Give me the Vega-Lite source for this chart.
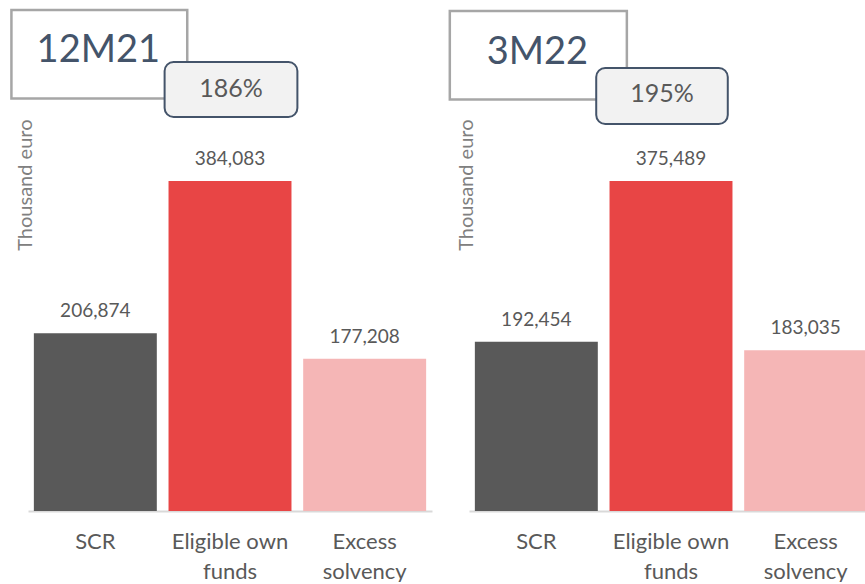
{
  "$schema": "https://vega.github.io/schema/vega-lite/v6.json",
  "bounds": "flush",
  "spacing": 37,
  "padding": {"left": 10, "top": 8, "right": 0, "bottom": 0},
  "background": "white",
  "config": {
    "font": "Lato",
    "view": {"stroke": null},
    "axisX": {
      "labelFontSize": 22, "labelColor": "#595959", "labelPadding": 20, "labelLineHeight": 30,
      "labelAngle": 0, "ticks": false, "domainColor": "#d9d9d9", "domainWidth": 2, "grid": false,
      "labelExpr": "datum.value == 'Eligible own funds' ? ['Eligible own', 'funds'] : datum.value == 'Excess solvency' ? ['Excess', 'solvency'] : datum.value"
    },
    "axisY": {
      "labels": false, "ticks": false, "domain": false, "grid": false,
      "titleFontSize": 20, "titleFontWeight": "normal", "titleColor": "#808080",
      "titleAlign": "right", "titleBaseline": "alphabetic", "titleX": 3, "titleY": 108, "titleAngle": -90
    }
  },
  "datasets": {
    "bars": [
      {"period": "12M21", "category": "SCR", "value": 206874},
      {"period": "12M21", "category": "Eligible own funds", "value": 384083},
      {"period": "12M21", "category": "Excess solvency", "value": 177208},
      {"period": "3M22", "category": "SCR", "value": 192454},
      {"period": "3M22", "category": "Eligible own funds", "value": 375489},
      {"period": "3M22", "category": "Excess solvency", "value": 183035}
    ],
    "headers": [
      {"period": "12M21", "ratio": "186%"},
      {"period": "3M22", "ratio": "195%"}
    ]
  },
  "resolve": {"scale": {"x": "independent", "y": "independent"}},
  "hconcat": [
    {
      "width": 404, "height": 500,
      "layer": [
        {
          "data": {"name": "bars"},
          "transform": [{"filter": "datum.period == '12M21'"}],
          "mark": {"type": "bar"},
          "encoding": {
            "x": {"field": "category", "type": "nominal", "title": null,
                  "scale": {"domain": ["SCR", "Eligible own funds", "Excess solvency"], "paddingInner": 0.087, "paddingOuter": 0.0435}},
            "y": {"field": "value", "type": "quantitative", "title": "Thousand euro", "scale": {"domain": [0, 581944], "nice": false}},
            "color": {"field": "category", "type": "nominal", "legend": null,
                      "scale": {"domain": ["SCR", "Eligible own funds", "Excess solvency"], "range": ["#595959", "#E84545", "#F5B6B6"]}}
          }
        },
        {
          "data": {"name": "bars"},
          "transform": [{"filter": "datum.period == '12M21'"}],
          "mark": {"type": "text", "fontSize": 19, "color": "#595959", "baseline": "alphabetic", "dy": -16},
          "encoding": {
            "x": {"field": "category", "type": "nominal", "title": null},
            "y": {"field": "value", "type": "quantitative", "title": "Thousand euro"},
            "text": {"field": "value", "type": "quantitative", "format": ",d"}
          }
        },
        {
          "data": {"name": "headers"},
          "transform": [{"filter": "datum.period == '12M21'"}],
          "mark": {"type": "rect", "fill": "white", "stroke": "#a6a6a6", "strokeWidth": 2.5, "width": {"band": 1.43}, "xOffset": 4, "clip": false},
          "encoding": {
            "x": {"datum": "SCR", "type": "nominal", "title": null},
            "y": {"datum": 583108, "type": "quantitative", "title": "Thousand euro"},
            "y2": {"datum": 480104}
          }
        },
        {
          "data": {"name": "headers"},
          "transform": [{"filter": "datum.period == '12M21'"}],
          "mark": {"type": "text", "fontSize": 38, "color": "#44546A", "baseline": "middle", "xOffset": 3},
          "encoding": {
            "x": {"datum": "SCR", "type": "nominal", "title": null},
            "y": {"datum": 535388, "type": "quantitative", "title": "Thousand euro"},
            "text": {"field": "period"}
          }
        },
        {
          "data": {"name": "headers"},
          "transform": [{"filter": "datum.period == '12M21'"}],
          "mark": {"type": "rect", "fill": "#F2F2F2", "stroke": "#44546A", "strokeWidth": 2, "cornerRadius": 9, "width": {"band": 1.08}, "xOffset": 1},
          "encoding": {
            "x": {"datum": "Eligible own funds", "type": "nominal", "title": null},
            "y": {"datum": 522586, "type": "quantitative", "title": "Thousand euro"},
            "y2": {"datum": 458572}
          }
        },
        {
          "data": {"name": "headers"},
          "transform": [{"filter": "datum.period == '12M21'"}],
          "mark": {"type": "text", "fontSize": 25, "color": "#595959", "baseline": "middle", "xOffset": 1},
          "encoding": {
            "x": {"datum": "Eligible own funds", "type": "nominal", "title": null},
            "y": {"datum": 491161, "type": "quantitative", "title": "Thousand euro"},
            "text": {"field": "ratio"}
          }
        }
      ]
    },
    {
      "width": 404, "height": 500,
      "layer": [
        {
          "data": {"name": "bars"},
          "transform": [{"filter": "datum.period == '3M22'"}],
          "mark": {"type": "bar"},
          "encoding": {
            "x": {"field": "category", "type": "nominal", "title": null,
                  "scale": {"domain": ["SCR", "Eligible own funds", "Excess solvency"], "paddingInner": 0.087, "paddingOuter": 0.0435}},
            "y": {"field": "value", "type": "quantitative", "title": "Thousand euro", "scale": {"domain": [0, 568923], "nice": false}},
            "color": {"field": "category", "type": "nominal", "legend": null,
                      "scale": {"domain": ["SCR", "Eligible own funds", "Excess solvency"], "range": ["#595959", "#E84545", "#F5B6B6"]}}
          }
        },
        {
          "data": {"name": "bars"},
          "transform": [{"filter": "datum.period == '3M22'"}],
          "mark": {"type": "text", "fontSize": 19, "color": "#595959", "baseline": "alphabetic", "dy": -16},
          "encoding": {
            "x": {"field": "category", "type": "nominal", "title": null},
            "y": {"field": "value", "type": "quantitative", "title": "Thousand euro"},
            "text": {"field": "value", "type": "quantitative", "format": ",d"}
          }
        },
        {
          "data": {"name": "headers"},
          "transform": [{"filter": "datum.period == '3M22'"}],
          "mark": {"type": "rect", "fill": "white", "stroke": "#a6a6a6", "strokeWidth": 2.5, "width": {"band": 1.44}, "xOffset": 2, "clip": false},
          "encoding": {
            "x": {"datum": "SCR", "type": "nominal", "title": null},
            "y": {"datum": 568923, "type": "quantitative", "title": "Thousand euro"},
            "y2": {"datum": 468224}
          }
        },
        {
          "data": {"name": "headers"},
          "transform": [{"filter": "datum.period == '3M22'"}],
          "mark": {"type": "text", "fontSize": 38, "color": "#44546A", "baseline": "middle", "xOffset": 1},
          "encoding": {
            "x": {"datum": "SCR", "type": "nominal", "title": null},
            "y": {"datum": 521133, "type": "quantitative", "title": "Thousand euro"},
            "text": {"field": "period"}
          }
        },
        {
          "data": {"name": "headers"},
          "transform": [{"filter": "datum.period == '3M22'"}],
          "mark": {"type": "rect", "fill": "#F2F2F2", "stroke": "#44546A", "strokeWidth": 2, "cornerRadius": 9, "width": {"band": 1.07}, "xOffset": -9},
          "encoding": {
            "x": {"datum": "Eligible own funds", "type": "nominal", "title": null},
            "y": {"datum": 504066, "type": "quantitative", "title": "Thousand euro"},
            "y2": {"datum": 440346}
          }
        },
        {
          "data": {"name": "headers"},
          "transform": [{"filter": "datum.period == '3M22'"}],
          "mark": {"type": "text", "fontSize": 25, "color": "#595959", "baseline": "middle", "xOffset": -9},
          "encoding": {
            "x": {"datum": "Eligible own funds", "type": "nominal", "title": null},
            "y": {"datum": 474482, "type": "quantitative", "title": "Thousand euro"},
            "text": {"field": "ratio"}
          }
        }
      ]
    }
  ]
}
